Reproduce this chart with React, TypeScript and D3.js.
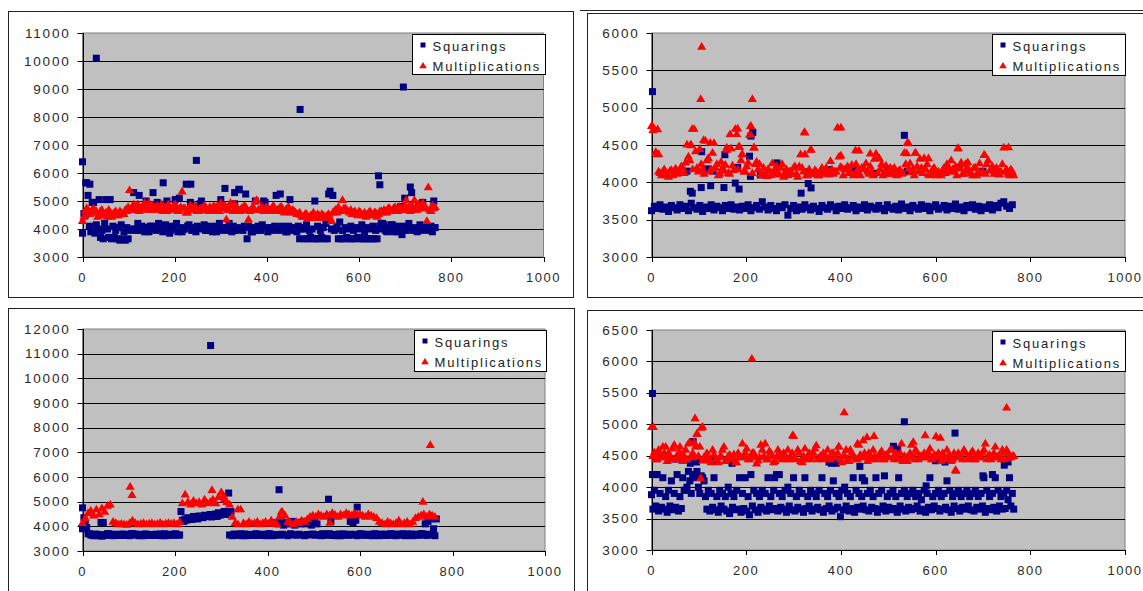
import * as d3 from "d3";

// every 6th sample of each run is drawn; the "B" arrays sit 3 samples later
const STEP = 6;
const xTicks = [0, 200, 400, 600, 800, 1000];
const seriesNames = ["Squarings", "Multiplications"];

// ---- panel 1 (top left)
const p1Sq = [
  3850, 4500, 5200, 3900, 4950, 4150, 5050, 3950, 4200, 4000, 5050, 4100, 3950, 4050, 4150, 3900,
  4050, 3950, 4700, 4000, 4200, 3950, 4050, 5000, 3900, 4100, 4000, 4950, 4050, 3900, 4150, 4000,
  3950, 4050, 4200, 5100, 3900, 4000, 4100, 4950, 4050, 3900, 4000, 5000, 4150, 3950, 4050, 3900,
  4100, 4000, 5050, 3950, 4050, 4200, 3900, 4900, 4050, 4000, 3950, 5250, 4100, 3900, 4050, 3950,
  4000, 4150, 4950, 3900, 4050, 4000, 5200, 3950, 4100, 4000, 3900, 5050, 4050, 3950, 4100, 4000,
  4050, 4150, 3950, 4000, 5000, 4100, 3950, 4050, 4200, 5250, 4000, 3950, 4100, 4250, 3950, 4050,
  4000, 4100, 3950, 4050, 4000, 4150, 3900, 4050, 4000, 4100, 3950, 4000, 4200, 4150, 3900, 4050,
  4150, 4000, 3900, 4800, 4100, 3950, 4200, 5300, 4050, 3900, 4150, 4950, 4000, 3950, 4100, 5000,
];
const p1SqB = [
  4550, 5650, 4100, 4950, 3850, 4000, 3700, 3650, 5050, 3700, 3650, 3700, 3650, 3600, 3650, 3600,
  3650, 4000, 5300, 3950, 5200, 4100, 3900, 4050, 4100, 5300, 3950, 4200, 4000, 4100, 5000, 3850,
  4100, 5050, 3900, 4050, 4000, 5600, 4150, 3950, 4000, 4100, 4900, 4050, 3950, 4100, 3950, 4050,
  3900, 4200, 4000, 5450, 4050, 3950, 4100, 3950, 5400, 4000, 4100, 3650, 4050, 3900, 5000, 4100,
  3950, 5000, 4050, 4000, 3950, 4100, 4000, 5250, 4050, 3900, 4100, 4000, 3950, 3900, 3650, 4000,
  3650, 3650, 3700, 3650, 3650, 3650, 3700, 3650, 3650, 5350, 5200, 4000, 3650, 3650, 3650, 3700,
  3650, 3650, 3650, 3700, 3650, 3650, 3650, 3650, 3650, 3650, 3650, 4100, 4200, 3950, 4000, 4150,
  3900, 4100, 4000, 3800, 5100, 4050, 5500, 3950, 4000, 4850, 3950, 4050, 4100, 4000, 3900, 4050,
];
const p1SqOut = [
  [0, 6400], [30, 10100], [247, 6450], [472, 8270], [696, 9070], [642, 5900], [645, 5580],
  [7, 5650], [16, 5600], [175, 5650], [235, 5600], [330, 5300], [340, 5420],
];
const p1Mul = [
  4300, 4650, 4700, 4600, 4750, 4650, 4550, 4700, 4500, 4450, 4600, 4550, 4650, 4500, 4600, 4550,
  4650, 5400, 4800, 4700, 4900, 4750, 4850, 4700, 4950, 4800, 4700, 4850, 4750, 4650, 4800, 4900,
  4750, 4850, 4800, 4700, 5350, 4750, 4600, 4850, 4700, 4800, 4650, 4750, 4850, 4700, 4800, 4650,
  4700, 4800, 4950, 4750, 4350, 4700, 4850, 4900, 4750, 4650, 4700, 4800, 4350, 4700, 4750, 5050,
  4700, 4800, 4650, 4750, 4700, 4850, 4650, 4700, 4800, 4600, 4750, 4650, 4700, 4600, 4550, 4500,
  4450, 4550, 4400, 4500, 4450, 4550, 4400, 4500, 4450, 4550, 4300, 4650, 4600, 4700, 5050, 4750,
  4650, 4700, 4600, 4550, 4650, 4500, 4600, 4550, 4650, 4500, 4600, 4550, 4650, 4700, 4600, 4750,
  4700, 4800, 4650, 4750, 4700, 5050, 4800, 4850, 5050, 4700, 4750, 4950, 4800, 5500, 4650, 4750,
];
const p1MulB = [
  4450, 4750, 4550, 4700, 4600, 4450, 4650, 4500, 4600, 4700, 4450, 4600, 4500, 4650, 4550, 4700,
  4800, 4700, 4900, 4750, 4650, 4800, 4950, 4750, 4700, 4850, 4800, 4700, 4900, 4750, 4650, 4800,
  4700, 4900, 4650, 4800, 4750, 4600, 4800, 4700, 4850, 4650, 4750, 4700, 4800, 4650, 4750, 4850,
  4800, 4650, 4750, 4850, 4700, 4950, 4650, 4800, 4700, 4750, 4850, 4700, 4650, 4800, 5000, 4700,
  4750, 4650, 4800, 4700, 4650, 4750, 4700, 4800, 4650, 4700, 4800, 4600, 4650, 4550, 4600, 4450,
  4550, 4400, 4500, 4600, 4400, 4500, 4550, 4450, 4500, 4400, 4600, 4700, 4800, 4650, 4750, 4700,
  4600, 4550, 4650, 4500, 4600, 4550, 4450, 4600, 4500, 4600, 4450, 4650, 4600, 4650, 4750, 4650,
  4750, 4650, 4800, 4700, 4850, 4750, 4650, 4800, 4700, 4900, 4850, 4750, 4300, 4700, 4850, 4800,
];
const p1MulOut: number[][] = [];

// ---- panel 2 (top right)
const p2Sq = [
  3620, 3680, 3650, 3700, 3640, 3670, 3610, 3690, 3660, 3630, 3700, 3650, 3680, 3620, 3720, 3660,
  3640, 3690, 3610, 3670, 3650, 3700, 3630, 3680, 3660, 3620, 3690, 3650, 3700, 3640, 3670, 3630,
  3680, 3650, 3700, 3620, 3660, 3690, 3640, 3740, 3670, 3630, 3690, 3650, 3620, 3680, 3660, 3700,
  3560, 3650, 3690, 3620, 3670, 3640, 3700, 3660, 3630, 3680, 3650, 3610, 3690, 3660, 3640, 3700,
  3670, 3620, 3680, 3650, 3700, 3640, 3660, 3690, 3620, 3670, 3650, 3700, 3630, 3680, 3660, 3640,
  3690, 3650, 3620, 3700, 3660, 3640, 3680, 3630, 3710, 3650, 3670, 3620, 3690, 3660, 3640, 3700,
  3650, 3680, 3620, 3670, 3700, 3640, 3660, 3690, 3630, 3680, 3650, 3710, 3640, 3670, 3620, 3690,
  3660, 3700, 3640, 3680, 3620, 3670, 3650, 3700, 3630, 3690, 3660, 3720, 3740, 3680, 3650, 3700,
];
const p2SqB: number[] = [];
const p2SqOut = [
  [2, 5215], [82, 3880], [86, 3855], [106, 4410], [105, 3930], [118, 4180], [125, 3955], [130, 4150],
  [75, 4150], [153, 3930], [155, 4370], [177, 3990], [185, 3910], [182, 4200], [207, 4350], [210, 4620],
  [214, 4670], [209, 4080], [260, 4130], [265, 4260], [316, 3855], [331, 3985], [337, 3925], [330, 4140],
  [365, 4150], [372, 4170], [534, 4630], [470, 4120], [540, 4150], [430, 4160], [500, 4180], [650, 4200],
  [700, 4150], [230, 4100],
];
const p2Mul = [
  4760, 4720, 4380, 4130, 4150, 4100, 4080, 4170, 4160, 4120, 4150, 4200, 4270, 4350, 4500, 4720,
  4200, 4450, 4180, 4560, 4330, 4180, 4530, 4250, 4120, 4200, 4240, 4130, 4460, 4170, 4650, 4480,
  4380, 4150, 4270, 4760, 4470, 4280, 4250, 4100, 4120, 4180, 4100, 4150, 4220, 4110, 4250, 4130,
  4100, 4150, 4200, 4120, 4220, 4200, 4670, 4100, 4440, 4120, 4150, 4100, 4200, 4130, 4160, 4290,
  4120, 4150, 4350, 4200, 4180, 4220, 4150, 4100, 4250, 4430, 4200, 4180, 4150, 4220, 4100, 4390,
  4330, 4250, 4150, 4120, 4200, 4180, 4110, 4160, 4120, 4400, 4530, 4260, 4180, 4400, 4150, 4200,
  4330, 4250, 4100, 4180, 4120, 4150, 4100, 4200, 4250, 4150, 4180, 4220, 4460, 4270, 4120, 4200,
  4160, 4100, 4200, 4150, 4130, 4370, 4250, 4160, 4220, 4180, 4120, 4150, 4470, 4180, 4100, 4150,
];
const p2MulB = [
  4700, 4410, 4150, 4100, 4180, 4120, 4160, 4100, 4190, 4140, 4220, 4130, 4510, 4300, 4180, 4420,
  4150, 4250, 4120, 4300, 4150, 4400, 4200, 4100, 4280, 4160, 4440, 4120, 4230, 4720, 4180, 4300,
  4150, 4220, 4640, 4130, 4250, 4180, 4120, 4200, 4090, 4160, 4260, 4120, 4140, 4200, 4080, 4180,
  4150, 4120, 4220, 4080, 4380, 4150, 4100, 4180, 4120, 4170, 4100, 4150, 4120, 4200, 4110, 4180,
  4150, 4740, 4210, 4100, 4180, 4130, 4240, 4120, 4170, 4100, 4200, 4260, 4120, 4150, 4320, 4130,
  4180, 4100, 4230, 4150, 4120, 4200, 4100, 4170, 4130, 4250, 4190, 4140, 4100, 4220, 4320, 4130,
  4180, 4110, 4150, 4200, 4100, 4120, 4170, 4130, 4210, 4300, 4150, 4100, 4190, 4120, 4250, 4180,
  4130, 4200, 4100, 4260, 4150, 4120, 4300, 4180, 4120, 4200, 4110, 4250, 4150, 4120, 4180, 4100,
];
const p2MulOut = [
  [2, 4760], [13, 4715], [15, 4385], [86, 4720], [83, 4510], [104, 5120], [106, 5820], [110, 4570],
  [124, 4535], [166, 4650], [182, 4725], [184, 4480], [209, 4760], [210, 4640], [213, 5120], [217, 4470],
  [159, 4470], [191, 4380], [323, 4680], [324, 4380], [337, 4445], [400, 4740], [400, 4365], [431, 4435],
  [462, 4390], [543, 4527], [539, 4395], [557, 4400], [647, 4460], [754, 4473], [704, 4370], [585, 4326],
  [668, 4272], [481, 4326],
];

// ---- panel 3 (bottom left)
const p3Sq = [
  3900, 4100, 3700, 3650, 3620, 3680, 3650, 3600, 3640, 3700, 3660, 3620, 3680, 3650, 3630, 3670,
  3650, 3620, 3700, 3680, 3640, 3660, 3620, 3680, 3650, 3630, 3670, 3640, 3690, 3650, 3620, 3660,
  3680, 3640, 3660, 3650, 4250, 4300, 4350, 4320, 4400, 4380, 4420, 4400, 4450, 4430, 4480, 4450,
  4500, 4550, 4520, 4600, 4580, 3650, 3620, 3680, 3640, 3700, 3650, 3620, 3670, 3650, 3630, 3680,
  3640, 3660, 3620, 3690, 3650, 3630, 3670, 3640, 3680, 3650, 3620, 3700, 3660, 3640, 3680, 3650,
  3620, 3670, 3650, 3690, 3640, 3660, 3620, 3680, 3650, 3700, 3630, 3670, 3650, 3620, 3690, 3660,
  3640, 3680, 3650, 3620, 3700, 3660, 3640, 3670, 3630, 3690, 3650, 3620, 3680, 3660, 3640, 3700,
  3650, 3620, 3680, 3660, 3630, 3690, 3650, 3620, 3670, 3640, 3700, 3660, 3630, 3680, 3650, 3620,
];
const p3SqB = [
  4350, 3950, 3700, 3650, 3680, 3620, 3660, 4150, 3640, 3700, 3650, 3630, 3670, 3640, 3690, 3650,
  3630, 3700, 3650, 3680, 3620, 3660, 3690, 3640, 3670, 3630, 3680, 3650, 3620, 3700, 3660, 3640,
  3660, 3700, 3640, 4600, 4200, 4250, 4300, 4280, 4350, 4300, 4380, 4350, 4400, 4420, 4380, 4450,
  4400, 4450, 4500, 4480, 4550, 4600, 3680, 3640, 3660, 3620, 3690, 3650, 3670, 3640, 3700, 3660,
  3640, 3680, 3650, 3700, 3620, 4150, 4100, 4200, 4050, 4150, 4100, 4200, 4050, 4150, 4100, 4200,
  4100, 4150, 4050, 4200, 4100, 3660, 3700, 3640, 3680, 4200, 3650, 3620, 3690, 3640, 3680, 3650,
  4200, 4150, 4250, 3660, 3690, 3640, 3680, 3650, 3620, 3700, 3640, 3660, 3680, 3630, 3650, 3690,
  3640, 3680, 3650, 3700, 3620, 3660, 3690, 3640, 3680, 3650, 3700, 4100, 4200, 4300, 3900, 4300,
];
const p3SqOut = [
  [0, 4750], [40, 4160], [277, 11330], [316, 5350], [425, 5485], [532, 5100], [594, 4780],
];
const p3Mul = [
  4150, 4350, 4550, 4650, 4450, 4700, 4500, 4750, 4600, 4850, 4900, 4200, 4150, 4100, 4120, 4100,
  4080, 4150, 4250, 4150, 4100, 4120, 4150, 4100, 4130, 4150, 4100, 4120, 4160, 4100, 4130, 4150,
  4120, 4150, 4100, 4200, 4950, 5300, 5000, 4900, 5050, 4950, 5000, 4900, 5100, 4950, 5000, 5100,
  4950, 5200, 5400, 5100, 5000, 4900, 4400, 4150, 4100, 4700, 4150, 4100, 4200, 4120, 4150, 4200,
  4100, 4150, 4200, 4120, 4250, 4150, 4100, 4400, 4600, 4450, 4200, 4150, 4100, 4200, 4150, 4250,
  4200, 4300, 4400, 4450, 4400, 4500, 4450, 4400, 4500, 4450, 4550, 4480, 4400, 4500, 4450, 4550,
  4500, 4450, 4550, 4480, 4500, 4450, 4400, 4500, 4450, 4400, 4350, 4200, 4150, 4100, 4200, 4150,
  4100, 4150, 4250, 4100, 4150, 4200, 4100, 4200, 4350, 4400, 4450, 4500, 4400, 4500, 4450, 4400,
];
const p3MulB: number[] = [];
const p3MulOut = [
  [103, 5620], [107, 5280], [280, 5485], [305, 5250], [336, 4700], [430, 4600], [535, 4160],
  [736, 5010], [752, 7310],
];

// ---- panel 4 (bottom right)
const p4Sq = [
  3880, 3950, 4200, 3900, 4150, 3850, 3950, 4100, 3900, 4200, 3850, 4150, 3950, 4250, 3900, 4200,
  4250, 3900, 4150, 3850, 3950, 3900, 4150, 3850, 3950, 3900, 3850, 4000, 3900, 3850, 3950, 4150,
  3900, 4150, 3850, 4200, 3950, 3900, 3850, 3950, 3900, 4150, 3850, 3950, 4200, 3900, 3850, 3950,
  4000, 3900, 4150, 3850, 3950, 3900, 4150, 3850, 3950, 3900, 3850, 3950, 4150, 3900, 3850, 3950,
  4100, 3900, 3850, 3950, 4000, 3900, 3850, 4150, 3950, 3900, 3850, 4100, 3900, 3950, 3850, 4150,
  3900, 3950, 4180, 3850, 3900, 3950, 3850, 4150, 3900, 3950, 3850, 3900, 3950, 3850, 3900, 3800,
  3950, 3900, 4150, 3850, 3900, 3950, 3850, 3900, 4100, 3950, 3850, 3900, 3950, 3850, 3900, 3950,
  3850, 3900, 3950, 3850, 3900, 4150, 3950, 3850, 3900, 4150, 3950, 3850, 3900, 3950, 4150, 3900,
];
const p4SqB = [
  3650, 3700, 3620, 3680, 3650, 3600, 3700, 3640, 3680, 3620, 3660, 3950, 4000, 4100, 4200, 4150,
  4000, 4180, 4100, 3650, 3620, 3680, 3640, 3600, 3700, 3650, 3620, 3580, 3680, 3640, 3650, 3600,
  3660, 3620, 3560, 3700, 3640, 3600, 3680, 3650, 3620, 3700, 3640, 3660, 3620, 3680, 3650, 3600,
  3700, 3640, 3620, 3680, 3650, 3600, 3660, 3700, 3620, 3650, 3680, 3640, 3600, 3660, 3700, 3620,
  3650, 3680, 3530, 3640, 3700, 3620, 3660, 3600, 3680, 3650, 3700, 3640, 3620, 3680, 3660, 3600,
  3650, 3700, 3620, 3680, 3640, 3660, 3600, 3700, 3650, 3620, 3680, 3640, 3660, 3700, 3620, 3650,
  3600, 3680, 3640, 3700, 3660, 3620, 3650, 3680, 3640, 3600, 3700, 3660, 3620, 3680, 3650, 3700,
  3640, 3620, 3680, 3650, 3700, 3600, 3660, 3640, 3680, 3620, 3700, 3650, 3660, 3800, 3700, 3650,
];
const p4SqOut = [
  [2, 5490], [88, 4725], [82, 4380], [2, 4200], [10, 4200], [534, 5040], [641, 4860], [511, 4650],
  [520, 4600], [753, 4400], [745, 4350], [440, 4330], [445, 4150], [380, 4380], [375, 4400],
  [390, 4380], [55, 4450], [50, 4450], [95, 4400], [170, 4380], [130, 4420], [260, 4150], [270, 4200],
  [720, 4200], [700, 4180], [600, 4420], [620, 4400], [630, 4430], [580, 4020],
];
const p4Mul = [
  4960, 4560, 4450, 4520, 4650, 4480, 4550, 4450, 4680, 4500, 4550, 4420, 4600, 4700, 4500, 4480,
  4850, 4650, 4430, 4500, 4450, 4400, 4520, 4450, 4480, 4600, 4420, 4500, 4450, 4530, 4400, 4480,
  4700, 4550, 4450, 4500, 4550, 4380, 4480, 4600, 4700, 4450, 4550, 4400, 4480, 4550, 4450, 4520,
  4600, 4480, 4820, 4450, 4550, 4400, 4620, 4500, 4450, 4550, 4670, 4480, 4450, 4520, 4600, 4450,
  4550, 4480, 4650, 4400, 4500, 4450, 4600, 4500, 4450, 4680, 4480, 4550, 4420, 4500, 4600, 4450,
  4500, 4580, 4450, 4520, 4600, 4480, 4550, 4450, 4700, 4500, 4420, 4550, 4480, 4600, 4450, 4500,
  4550, 4480, 4620, 4450, 4500, 4550, 4420, 4480, 4600, 4500, 4450, 4280, 4550, 4480, 4600, 4450,
  4500, 4580, 4450, 4550, 4480, 4600, 4450, 4520, 4480, 4650, 4500, 4450, 4550, 4600, 4480, 4500,
];
const p4MulB = [
  4500, 4450, 4600, 4480, 4550, 4420, 4500, 4620, 4450, 4550, 4480, 4500, 4450, 4720, 4550, 4650,
  4500, 4950, 4480, 4550, 4430, 4600, 4450, 4400, 4500, 4650, 4450, 4520, 4480, 4400, 4550, 4480,
  4500, 4620, 4450, 4550, 4480, 4430, 4680, 4500, 4450, 4580, 4500, 4420, 4600, 4480, 4550, 4450,
  4450, 4550, 4480, 4600, 4420, 4500, 4450, 4550, 4500, 4620, 4450, 4500, 4550, 4480, 4450, 4550,
  4480, 4550, 4450, 4500, 4600, 4420, 4550, 4480, 4450, 4520, 4750, 4480, 4550, 4450, 4500, 4480,
  4550, 4450, 4520, 4480, 4600, 4450, 4500, 4550, 4420, 4480, 4500, 4680, 4450, 4550, 4500, 4480,
  4480, 4550, 4450, 4520, 4500, 4480, 4550, 4450, 4500, 4420, 4550, 4480, 4500, 4450, 4550, 4480,
  4550, 4450, 4500, 4480, 4550, 4700, 4500, 4450, 4550, 4480, 4500, 4600, 4450, 4550, 4480, 4500,
];
const p4MulOut = [
  [4, 4960], [92, 5100], [96, 4860], [108, 4965], [212, 6050], [298, 4830], [407, 5195], [750, 5270],
  [578, 4830], [601, 4815], [610, 4790], [643, 4265], [104, 4150], [553, 4725], [395, 4650],
  [435, 4700], [455, 4800], [470, 4820], [30, 4650], [60, 4650], [90, 4720],
];

const toPoints = (a: number[], b: number[], extra: number[][]) => [
  ...a.map((v, i) => [i * STEP, v]),
  ...b.map((v, i) => [i * STEP + STEP / 2, v]),
  ...extra,
];

const panels = [
  {
    frame: [8.5, 11.5, 565, 286], plot: [82.5, 33, 543.5, 257], yDomain: [3000, 11000], yStep: 1000,
    legend: [412.5, 34.5, 133, 40],
    sq: toPoints(p1Sq, p1SqB, p1SqOut), mul: toPoints(p1Mul, p1MulB, p1MulOut),
  },
  {
    frame: [587.5, 13.5, 600, 284], plot: [651.5, 33, 1125, 257], yDomain: [3000, 6000], yStep: 500,
    legend: [992.5, 34.5, 133, 41],
    sq: toPoints(p2Sq, p2SqB, p2SqOut), mul: toPoints(p2Mul, p2MulB, p2MulOut),
  },
  {
    frame: [8.5, 308.5, 566, 300], plot: [82.5, 329, 545, 551], yDomain: [3000, 12000], yStep: 1000,
    legend: [414.5, 330.5, 132, 41],
    sq: toPoints(p3Sq, p3SqB, p3SqOut), mul: toPoints(p3Mul, p3MulB, p3MulOut),
  },
  {
    frame: [587.5, 310.5, 600, 300], plot: [651.5, 330, 1125, 550], yDomain: [3000, 6500], yStep: 500,
    legend: [992.5, 331.5, 133, 40],
    sq: toPoints(p4Sq, p4SqB, p4SqOut), mul: toPoints(p4Mul, p4MulB, p4MulOut),
  },
];

const NAVY = "#000080";
const RED = "#FF0000";
const FONT = "'Liberation Sans', Arial, sans-serif";
const SQ = 7;
const TRI = "M0,-4.4L4.6,3.3L-4.6,3.3Z";
const TRI_LEGEND = "M0,-3.6L3.8,2.8L-3.8,2.8Z";

function Panel({ p }: { p: (typeof panels)[number] }) {
  const [left, top, right, bottom] = p.plot;
  const x = d3.scaleLinear().domain([0, 1000]).range([left, right]);
  const y = d3.scaleLinear().domain(p.yDomain).range([bottom, top]);
  const yTicks = d3.range(p.yDomain[0], p.yDomain[1] + 1, p.yStep);
  const crisp = (v: number) => Math.round(v) + 0.5;
  const [lx, ly, lw, lh] = p.legend;

  return (
    <g>
      <rect x={p.frame[0]} y={p.frame[1]} width={p.frame[2]} height={p.frame[3]} fill="#fff" stroke="#222" />
      <rect x={left} y={top} width={right - left} height={bottom - top} fill="#C0C0C0" stroke="#808080" />
      {yTicks.slice(1, -1).map((t) => (
        <line key={t} x1={left} x2={right} y1={crisp(y(t))} y2={crisp(y(t))} stroke="#000" />
      ))}
      {/* y axis */}
      <line x1={crisp(left)} x2={crisp(left)} y1={top} y2={bottom} stroke="#000" />
      {yTicks.map((t) => (
        <g key={t}>
          <line x1={left - 5} x2={left} y1={crisp(y(t))} y2={crisp(y(t))} stroke="#000" />
          <text x={left - 12} y={y(t) + 4.5} textAnchor="end" fontSize={13.5} letterSpacing={1.8} fill="#2a2a2a">
            {t}
          </text>
        </g>
      ))}
      {/* x axis */}
      <line x1={left} x2={right} y1={crisp(bottom)} y2={crisp(bottom)} stroke="#000" />
      {xTicks.map((t) => (
        <g key={t}>
          <line x1={crisp(x(t))} x2={crisp(x(t))} y1={bottom} y2={bottom + 5} stroke="#000" />
          <text x={x(t)} y={bottom + 25} textAnchor="middle" fontSize={13} letterSpacing={1.5} fill="#2a2a2a">
            {t}
          </text>
        </g>
      ))}
      {p.sq.map(([a, b], i) => (
        <rect key={"s" + i} x={x(a) - SQ / 2} y={y(b) - SQ / 2} width={SQ} height={SQ} fill={NAVY} />
      ))}
      {p.mul.map(([a, b], i) => (
        <path key={"m" + i} d={TRI} transform={`translate(${x(a)},${y(b)})`} fill={RED} />
      ))}
      <rect x={lx} y={ly} width={lw} height={lh} fill="#fff" stroke="#000" />
      <rect x={lx + 8} y={ly + 8} width={5} height={5} fill={NAVY} />
      <path d={TRI_LEGEND} transform={`translate(${lx + 10.5},${ly + 31})`} fill={RED} />
      <text x={lx + 20} y={ly + 16} fontSize={13} letterSpacing={1.8} fill="#222">{seriesNames[0]}</text>
      <text x={lx + 20} y={ly + 36} fontSize={13} letterSpacing={1.8} fill="#222">{seriesNames[1]}</text>
    </g>
  );
}

export default function App() {
  return (
    <svg
      width={1143}
      height={591}
      style={{ position: "absolute", left: 0, top: 0, background: "#fff" }}
      fontFamily={FONT}
    >
      <line x1={580} x2={1143} y1={10.5} y2={10.5} stroke="#222" />
      {panels.map((p, i) => (
        <Panel key={i} p={p} />
      ))}
    </svg>
  );
}
